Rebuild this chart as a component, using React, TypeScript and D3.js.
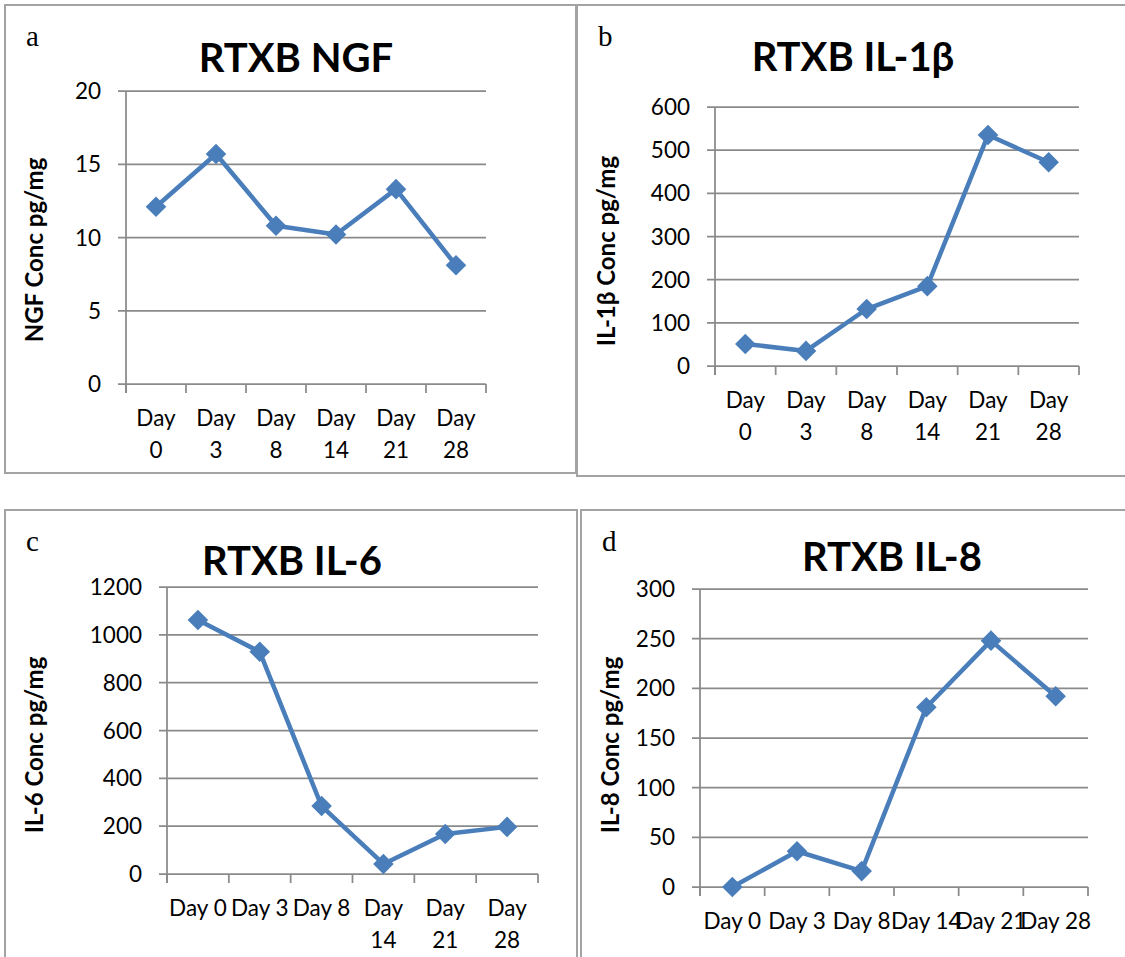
import React from "react";
import * as d3 from "d3";

const days = ["Day 0", "Day 3", "Day 8", "Day 14", "Day 21", "Day 28"];

const ngfValues = [12.1, 15.7, 10.8, 10.2, 13.3, 8.1];
const il1bValues = [51, 35, 132, 185, 535, 472];
const il6Values = [1062, 929, 284, 42, 167, 197];
const il8Values = [0, 36, 16, 181, 248, 192];

const ngfTicks = [0, 5, 10, 15, 20];
const il1bTicks = [0, 100, 200, 300, 400, 500, 600];
const il6Ticks = [0, 200, 400, 600, 800, 1000, 1200];
const il8Ticks = [0, 50, 100, 150, 200, 250, 300];

const BLUE = "#4a7ebb";
const GRID = "#8a8a8a";
const BORDER = "#a3a3a3";
const FONT = "Lato, 'Open Sans', sans-serif";
const TICK_SIZE = 22.5;

type Wrap = "all" | "long" | "none";

interface PanelProps {
  letter: string;
  title: string;
  yLabel: string;
  values: number[];
  ticks: number[];
  box: { x0: number; y0: number; x1: number; y1: number };
  plot: { left: number; right: number; top: number; bottom: number };
  titleX: number;
  titleY: number;
  labelY: number;
  wrap: Wrap;
}

function Panel(p: PanelProps) {
  const x = d3
    .scaleBand<string>()
    .domain(days)
    .range([p.plot.left, p.plot.right])
    .padding(0);
  const y = d3
    .scaleLinear()
    .domain([0, d3.max(p.ticks) as number])
    .range([p.plot.bottom, p.plot.top]);

  const cx = (d: string) => (x(d) as number) + x.bandwidth() / 2;
  const line = d3
    .line<number>()
    .x((_, i) => cx(days[i]))
    .y((v) => y(v));

  const diamond = d3.symbol().type(d3.symbolDiamond2).size(270);
  const bounds = [...days.map((d) => x(d) as number), p.plot.right];

  const shouldWrap = (d: string) =>
    p.wrap === "all" || (p.wrap === "long" && d.length > 5);

  return (
    <g>
      <rect
        x={p.box.x0}
        y={p.box.y0}
        width={p.box.x1 - p.box.x0}
        height={p.box.y1 - p.box.y0}
        fill="white"
        stroke={BORDER}
        strokeWidth={2}
      />
      <text
        x={p.box.x0 + 21}
        y={p.box.y0 + 41}
        fontFamily="'Liberation Serif', 'Times New Roman', serif"
        fontSize={29}
      >
        {p.letter}
      </text>
      <text
        x={p.titleX}
        y={p.titleY}
        textAnchor="middle"
        fontFamily={FONT}
        fontWeight="bold"
        fontSize={40}
      >
        {p.title}
      </text>

      {/* gridlines + y ticks */}
      {p.ticks.map((t) => (
        <g key={t}>
          <line
            x1={p.plot.left - 8}
            x2={p.plot.right}
            y1={y(t)}
            y2={y(t)}
            stroke={GRID}
            strokeWidth={1.75}
          />
          <text
            x={p.plot.left - 25}
            y={y(t)}
            dy="0.36em"
            textAnchor="end"
            fontFamily={FONT}
            fontSize={TICK_SIZE}
          >
            {t}
          </text>
        </g>
      ))}
      <line
        x1={p.plot.left}
        x2={p.plot.left}
        y1={p.plot.top}
        y2={p.plot.bottom + 9}
        stroke={GRID}
        strokeWidth={1.75}
      />
      {bounds.map((b, i) => (
        <line
          key={i}
          x1={b}
          x2={b}
          y1={p.plot.bottom}
          y2={p.plot.bottom + 9}
          stroke={GRID}
          strokeWidth={1.75}
        />
      ))}

      {/* category labels */}
      {days.map((d) => {
        const [w1, w2] = d.split(" ");
        return shouldWrap(d) ? (
          <text key={d} textAnchor="middle" fontFamily={FONT} fontSize={TICK_SIZE}>
            <tspan x={cx(d)} y={p.plot.bottom + 42}>
              {w1}
            </tspan>
            <tspan x={cx(d)} y={p.plot.bottom + 74}>
              {w2}
            </tspan>
          </text>
        ) : (
          <text
            key={d}
            x={cx(d)}
            y={p.plot.bottom + 42}
            textAnchor="middle"
            fontFamily={FONT}
            fontSize={TICK_SIZE}
          >
            {d}
          </text>
        );
      })}

      <text
        transform={`translate(${p.box.x0 + 38}, ${p.labelY}) rotate(-90)`}
        textAnchor="middle"
        fontFamily={FONT}
        fontWeight="bold"
        fontSize={24}
      >
        {p.yLabel}
      </text>

      <path
        d={line(p.values) as string}
        fill="none"
        stroke={BLUE}
        strokeWidth={4.5}
        strokeLinejoin="round"
      />
      {p.values.map((v, i) => (
        <path
          key={i}
          d={diamond() as string}
          transform={`translate(${cx(days[i])}, ${y(v)})`}
          fill={BLUE}
        />
      ))}
    </g>
  );
}

export default function App() {
  return (
    <svg
      width={1125}
      height={957}
      style={{ position: "absolute", left: 0, top: 0, background: "white" }}
    >
      <Panel
        letter="a"
        title="RTXB NGF"
        yLabel="NGF Conc pg/mg"
        values={ngfValues}
        ticks={ngfTicks}
        box={{ x0: 5, y0: 5, x1: 576, y1: 473 }}
        plot={{ left: 126, right: 486, top: 91, bottom: 384 }}
        titleX={296}
        titleY={72}
        labelY={250}
        wrap="all"
      />
      <Panel
        letter="b"
        title="RTXB IL-1β"
        yLabel="IL-1β Conc pg/mg"
        values={il1bValues}
        ticks={il1bTicks}
        box={{ x0: 577, y0: 5, x1: 1135, y1: 476 }}
        plot={{ left: 715, right: 1079, top: 107, bottom: 366 }}
        titleX={853}
        titleY={71}
        labelY={251}
        wrap="all"
      />
      <Panel
        letter="c"
        title="RTXB IL-6"
        yLabel="IL-6 Conc pg/mg"
        values={il6Values}
        ticks={il6Ticks}
        box={{ x0: 5, y0: 510, x1: 577, y1: 975 }}
        plot={{ left: 167, right: 538, top: 587, bottom: 874 }}
        titleX={292}
        titleY={575}
        labelY={745}
        wrap="long"
      />
      <Panel
        letter="d"
        title="RTXB IL-8"
        yLabel="IL-8 Conc pg/mg"
        values={il8Values}
        ticks={il8Ticks}
        box={{ x0: 581, y0: 510, x1: 1135, y1: 975 }}
        plot={{ left: 700, right: 1088, top: 589, bottom: 887 }}
        titleX={892}
        titleY={571}
        labelY={745}
        wrap="none"
      />
    </svg>
  );
}
